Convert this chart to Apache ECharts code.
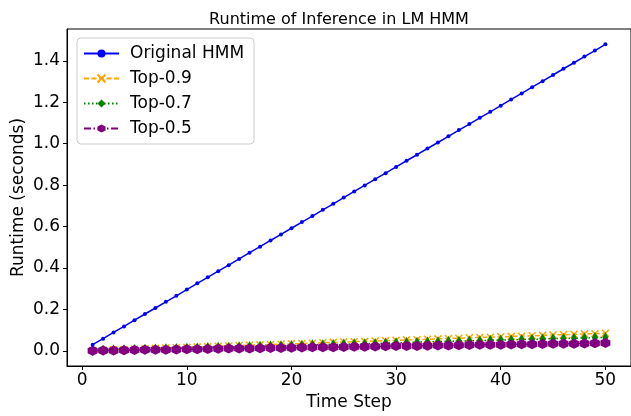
<!DOCTYPE html>
<html>
<head>
<meta charset="utf-8" />
<title>Runtime of Inference in LM HMM</title>
<script src="https://cdn.jsdelivr.net/npm/echarts@6/dist/echarts.min.js"></script>
<style>
  html, body { margin: 0; padding: 0; background: #fff; }
  #main { width: 631px; height: 416px; }
</style>
</head>
<body>
<div id="main"></div>
<script>
// time steps 1..50
var steps = [1,2,3,4,5,6,7,8,9,10,11,12,13,14,15,16,17,18,19,20,21,22,23,24,25,
  26,27,28,29,30,31,32,33,34,35,36,37,38,39,40,41,42,43,44,45,46,47,48,49,50];

var originalHmm = [0.030,0.059,0.089,0.118,0.148,0.178,0.207,0.237,0.266,0.296,
  0.326,0.355,0.385,0.414,0.444,0.474,0.503,0.533,0.562,0.592,
  0.622,0.651,0.681,0.710,0.740,0.770,0.799,0.829,0.858,0.888,
  0.918,0.947,0.977,1.006,1.036,1.066,1.095,1.125,1.154,1.184,
  1.214,1.243,1.273,1.302,1.332,1.362,1.391,1.421,1.450,1.480];

var top09 = [0.002,0.003,0.005,0.007,0.009,0.010,0.012,0.014,0.015,0.017,
  0.019,0.020,0.022,0.024,0.026,0.027,0.029,0.031,0.032,0.034,
  0.036,0.037,0.039,0.041,0.043,0.044,0.046,0.048,0.049,0.051,
  0.053,0.054,0.056,0.058,0.060,0.061,0.063,0.065,0.066,0.068,
  0.070,0.071,0.073,0.075,0.077,0.078,0.080,0.082,0.083,0.085];

var top07 = [0.001,0.003,0.004,0.005,0.007,0.008,0.009,0.010,0.012,0.013,
  0.014,0.016,0.017,0.018,0.020,0.021,0.022,0.023,0.025,0.026,
  0.027,0.029,0.030,0.031,0.033,0.034,0.035,0.036,0.038,0.039,
  0.040,0.042,0.043,0.044,0.046,0.047,0.048,0.049,0.051,0.052,
  0.053,0.055,0.056,0.057,0.059,0.060,0.061,0.062,0.064,0.065];

var top05 = [0.001,0.002,0.002,0.003,0.004,0.005,0.005,0.006,0.007,0.008,
  0.008,0.009,0.010,0.011,0.011,0.012,0.013,0.014,0.014,0.015,
  0.016,0.017,0.017,0.018,0.019,0.020,0.020,0.021,0.022,0.023,
  0.023,0.024,0.025,0.026,0.026,0.027,0.028,0.029,0.029,0.030,
  0.031,0.032,0.032,0.033,0.034,0.035,0.035,0.036,0.037,0.038];

var xTicks = [0, 10, 20, 30, 40, 50];
var yTicks = [0, 0.2, 0.4, 0.6, 0.8, 1.0, 1.2, 1.4];

var font = 'DejaVu Sans';

function pairs(ys) {
  return steps.map(function (t, i) { return [t, ys[i]]; });
}

var xMarker = 'path://M0,0L10,10M10,0L0,10';
var thinDiamond = 'path://M5,0L9,10L5,20L1,10Z';
var hexagon = 'path://M5,0L9.33,2.5L9.33,7.5L5,10L0.67,7.5L0.67,2.5Z';

var myChart = echarts.init(document.getElementById('main'));
var option = {
  animation: false,
  backgroundColor: '#fff',
  title: {
    text: 'Runtime of Inference in LM HMM',
    left: 334,
    top: 7,
    textAlign: 'center',
    textStyle: { fontFamily: font, fontSize: 16, fontWeight: 'normal', color: '#000' }
  },
  legend: {
    orient: 'vertical',
    left: 77,
    top: 38,
    padding: [7, 10, 7, 6],
    itemWidth: 35,
    itemHeight: 10,
    itemGap: 8,
    borderColor: '#cccccc',
    borderWidth: 1,
    borderRadius: 4,
    backgroundColor: 'rgba(255,255,255,0.8)',
    textStyle: { fontFamily: font, fontSize: 17, color: '#000', padding: [0, 0, 0, 6] },
    data: ['Original HMM', 'Top-0.9', 'Top-0.7', 'Top-0.5']
  },
  grid: {
    left: 67,
    right: -3,
    top: 29,
    bottom: 49,
    show: true,
    borderColor: '#000',
    borderWidth: 1
  },
  xAxis: {
    type: 'value',
    min: -1.45,
    max: 52.45,
    name: 'Time Step',
    nameLocation: 'middle',
    nameGap: 28,
    nameTextStyle: { fontFamily: font, fontSize: 17, color: '#000' },
    axisLine: { show: true, onZero: false, lineStyle: { color: '#000', width: 1 } },
    axisTick: { show: true, length: 4, customValues: xTicks, lineStyle: { color: '#000' } },
    axisLabel: { fontFamily: font, fontSize: 17, color: '#000', margin: 6, customValues: xTicks },
    splitLine: { show: false }
  },
  yAxis: {
    type: 'value',
    min: -0.073,
    max: 1.554,
    name: 'Runtime (seconds)',
    nameLocation: 'middle',
    nameGap: 40,
    nameMoveOverlap: false,
    nameTextStyle: { fontFamily: font, fontSize: 17, color: '#000' },
    axisLine: { show: true, onZero: false, lineStyle: { color: '#000', width: 1 } },
    axisTick: { show: true, length: 4, customValues: yTicks, lineStyle: { color: '#000' } },
    axisLabel: {
      fontFamily: font, fontSize: 17, color: '#000', margin: 7, customValues: yTicks,
      formatter: function (v) { return v.toFixed(1); }
    },
    splitLine: { show: false }
  },
  series: [
    {
      name: 'Original HMM',
      type: 'line',
      data: pairs(originalHmm),
      symbol: 'circle',
      symbolSize: 4,
      showAllSymbol: true,
      color: '#0000ff',
      lineStyle: { width: 1.5, color: '#0000ff' },
      itemStyle: { color: '#0000ff' },
      z: 5
    },
    {
      name: 'Top-0.9',
      type: 'line',
      data: pairs(top09),
      symbol: xMarker,
      symbolSize: 7,
      showAllSymbol: true,
      color: '#ffa500',
      lineStyle: { width: 1.5, color: '#ffa500', type: [5, 2.5] },
      itemStyle: { color: 'none', borderColor: '#ffa500', borderWidth: 1.5 },
      z: 2
    },
    {
      name: 'Top-0.7',
      type: 'line',
      data: pairs(top07),
      symbol: thinDiamond,
      symbolSize: [6, 11],
      showAllSymbol: true,
      color: '#008000',
      lineStyle: { width: 1.5, color: '#008000', type: [1.5, 2.5] },
      itemStyle: { color: '#008000' },
      z: 3
    },
    {
      name: 'Top-0.5',
      type: 'line',
      data: pairs(top05),
      symbol: hexagon,
      symbolSize: 10,
      showAllSymbol: true,
      color: '#800080',
      lineStyle: { width: 1.5, color: '#800080', type: [7, 2.5, 1.5, 2.5] },
      itemStyle: { color: '#800080' },
      z: 4
    }
  ]
};
myChart.setOption(option);
</script>
</body>
</html>
